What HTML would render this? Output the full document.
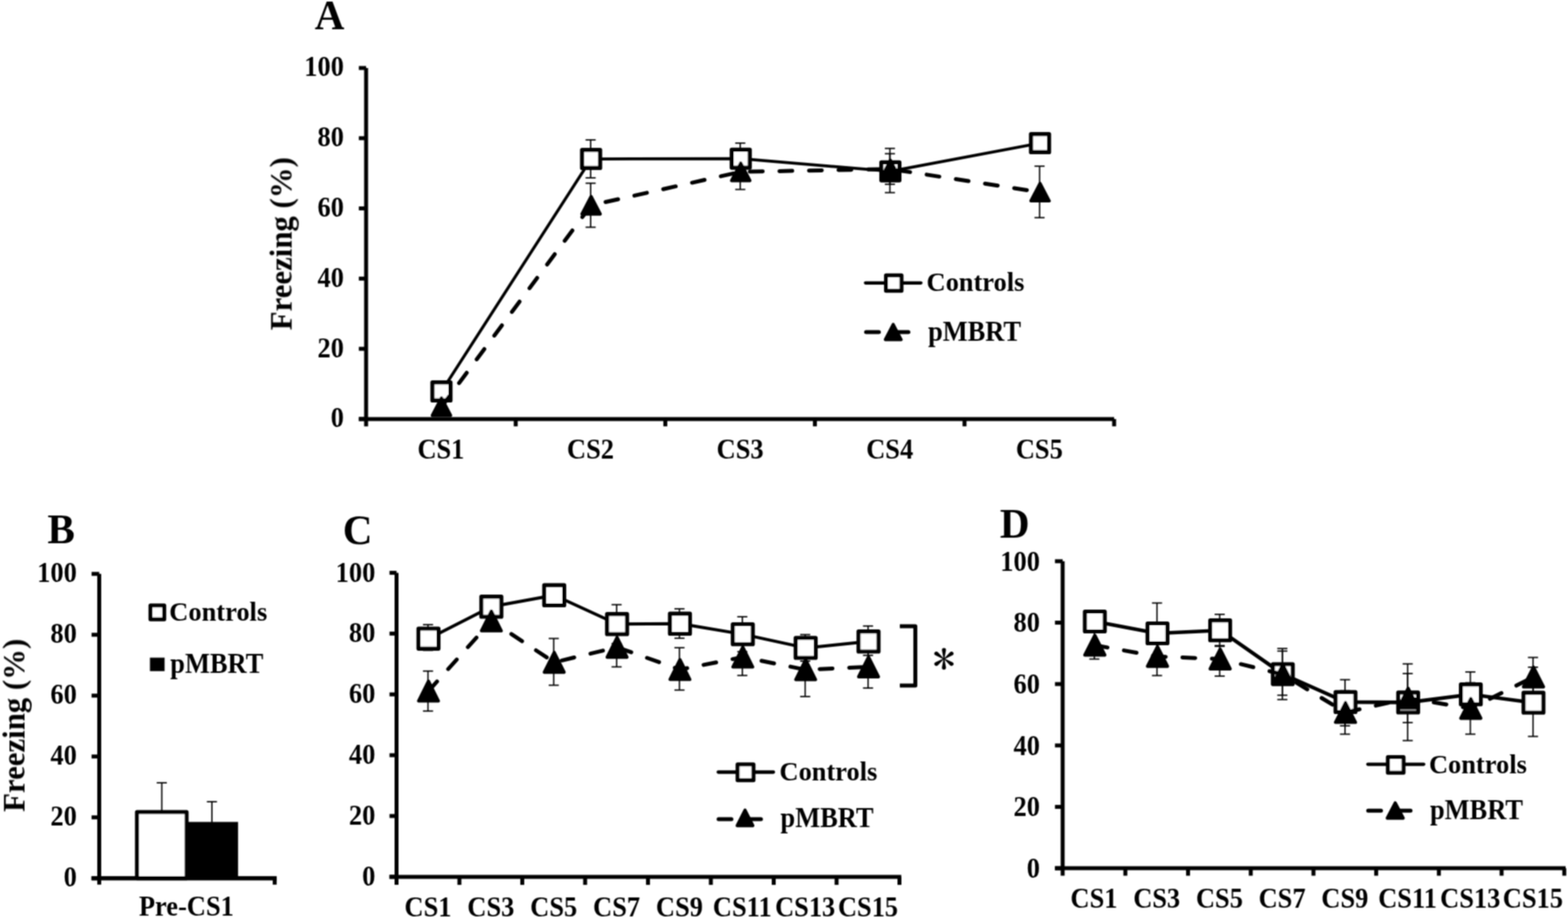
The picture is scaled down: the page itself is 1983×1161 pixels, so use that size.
<!DOCTYPE html>
<html><head><meta charset="utf-8"><title>Freezing figure</title>
<style>
html,body{margin:0;padding:0;background:#fff;}
svg{display:block;}
text{font-family:"Liberation Serif","Times New Roman",serif;font-weight:bold;fill:#000;stroke:none;}
text.ast{font-family:"IPAGothic","Liberation Serif",serif;font-weight:normal;}
</style></head>
<body>
<svg width="1983" height="1161" viewBox="0 0 1983 1161" stroke="#000">
<defs><filter id="soft" x="0" y="0" width="1983" height="1161" filterUnits="userSpaceOnUse"><feConvolveMatrix order="3" kernelMatrix="1 2 1 2 4 2 1 2 1" divisor="16" edgeMode="duplicate"/></filter></defs>
<rect x="0" y="0" width="1983" height="1161" fill="#fff" stroke="none"/>
<g stroke="#000" filter="url(#soft)">
<text class="lab" transform="translate(397.88,36.80) scale(1.0,1)" text-anchor="start" font-size="52">A</text>
<line x1="463.00" y1="86.00" x2="463.00" y2="539.20" stroke-width="5" stroke-linecap="butt"/>
<line x1="453.80" y1="529.90" x2="463.00" y2="529.90" stroke-width="5" stroke-linecap="butt"/>
<text transform="translate(435.00,540.30) scale(0.955,1)" text-anchor="end" font-size="35">0</text>
<line x1="453.80" y1="441.12" x2="463.00" y2="441.12" stroke-width="5" stroke-linecap="butt"/>
<text transform="translate(435.00,451.52) scale(0.955,1)" text-anchor="end" font-size="35">20</text>
<line x1="453.80" y1="352.34" x2="463.00" y2="352.34" stroke-width="5" stroke-linecap="butt"/>
<text transform="translate(435.00,362.74) scale(0.955,1)" text-anchor="end" font-size="35">40</text>
<line x1="453.80" y1="263.56" x2="463.00" y2="263.56" stroke-width="5" stroke-linecap="butt"/>
<text transform="translate(435.00,273.96) scale(0.955,1)" text-anchor="end" font-size="35">60</text>
<line x1="453.80" y1="174.78" x2="463.00" y2="174.78" stroke-width="5" stroke-linecap="butt"/>
<text transform="translate(435.00,185.18) scale(0.955,1)" text-anchor="end" font-size="35">80</text>
<line x1="453.80" y1="86.00" x2="463.00" y2="86.00" stroke-width="5" stroke-linecap="butt"/>
<text transform="translate(435.00,96.40) scale(0.955,1)" text-anchor="end" font-size="35">100</text>
<line x1="453.80" y1="529.90" x2="1409.00" y2="529.90" stroke-width="5" stroke-linecap="butt"/>
<line x1="652.20" y1="529.90" x2="652.20" y2="539.20" stroke-width="5" stroke-linecap="butt"/>
<line x1="841.40" y1="529.90" x2="841.40" y2="539.20" stroke-width="5" stroke-linecap="butt"/>
<line x1="1030.60" y1="529.90" x2="1030.60" y2="539.20" stroke-width="5" stroke-linecap="butt"/>
<line x1="1219.80" y1="529.90" x2="1219.80" y2="539.20" stroke-width="5" stroke-linecap="butt"/>
<line x1="1409.00" y1="529.90" x2="1409.00" y2="539.20" stroke-width="5" stroke-linecap="butt"/>
<text transform="translate(557.60,580.00) scale(0.955,1)" text-anchor="middle" font-size="35">CS1</text>
<text transform="translate(746.80,580.00) scale(0.955,1)" text-anchor="middle" font-size="35">CS2</text>
<text transform="translate(936.00,580.00) scale(0.955,1)" text-anchor="middle" font-size="35">CS3</text>
<text transform="translate(1125.20,580.00) scale(0.955,1)" text-anchor="middle" font-size="35">CS4</text>
<text transform="translate(1314.40,580.00) scale(0.955,1)" text-anchor="middle" font-size="35">CS5</text>
<text transform="translate(368.8,308.2) rotate(-90)" text-anchor="middle" font-size="39">Freezing (%)</text>
<line x1="746.95" y1="176.90" x2="746.95" y2="224.90" stroke-width="1.7" stroke-linecap="butt"/>
<line x1="740.55" y1="176.90" x2="753.35" y2="176.90" stroke-width="1.7" stroke-linecap="butt"/>
<line x1="740.55" y1="224.90" x2="753.35" y2="224.90" stroke-width="1.7" stroke-linecap="butt"/>
<line x1="936.20" y1="181.00" x2="936.20" y2="220.40" stroke-width="1.7" stroke-linecap="butt"/>
<line x1="929.80" y1="181.00" x2="942.60" y2="181.00" stroke-width="1.7" stroke-linecap="butt"/>
<line x1="929.80" y1="220.40" x2="942.60" y2="220.40" stroke-width="1.7" stroke-linecap="butt"/>
<line x1="1125.45" y1="187.70" x2="1125.45" y2="243.60" stroke-width="1.7" stroke-linecap="butt"/>
<line x1="1119.05" y1="187.70" x2="1131.85" y2="187.70" stroke-width="1.7" stroke-linecap="butt"/>
<line x1="1119.05" y1="243.60" x2="1131.85" y2="243.60" stroke-width="1.7" stroke-linecap="butt"/>
<line x1="746.95" y1="231.70" x2="746.95" y2="287.40" stroke-width="1.7" stroke-linecap="butt"/>
<line x1="740.55" y1="231.70" x2="753.35" y2="231.70" stroke-width="1.7" stroke-linecap="butt"/>
<line x1="740.55" y1="287.40" x2="753.35" y2="287.40" stroke-width="1.7" stroke-linecap="butt"/>
<line x1="936.20" y1="195.00" x2="936.20" y2="239.60" stroke-width="1.7" stroke-linecap="butt"/>
<line x1="929.80" y1="195.00" x2="942.60" y2="195.00" stroke-width="1.7" stroke-linecap="butt"/>
<line x1="929.80" y1="239.60" x2="942.60" y2="239.60" stroke-width="1.7" stroke-linecap="butt"/>
<line x1="1125.45" y1="194.40" x2="1125.45" y2="233.10" stroke-width="1.7" stroke-linecap="butt"/>
<line x1="1119.05" y1="194.40" x2="1131.85" y2="194.40" stroke-width="1.7" stroke-linecap="butt"/>
<line x1="1119.05" y1="233.10" x2="1131.85" y2="233.10" stroke-width="1.7" stroke-linecap="butt"/>
<line x1="1314.70" y1="210.20" x2="1314.70" y2="275.30" stroke-width="1.7" stroke-linecap="butt"/>
<line x1="1308.30" y1="210.20" x2="1321.10" y2="210.20" stroke-width="1.7" stroke-linecap="butt"/>
<line x1="1308.30" y1="275.30" x2="1321.10" y2="275.30" stroke-width="1.7" stroke-linecap="butt"/>
<polyline points="558.30,495.00 747.55,201.00 936.80,200.70 1126.05,216.70 1315.30,181.00" fill="none" stroke-width="3.75" stroke-linecap="round" stroke-linejoin="round"/>
<rect x="546.90" y="483.60" width="22.80" height="22.80" fill="#fff" stroke-width="5.2" stroke-linejoin="round"/>
<rect x="736.15" y="189.60" width="22.80" height="22.80" fill="#fff" stroke-width="5.2" stroke-linejoin="round"/>
<rect x="925.40" y="189.30" width="22.80" height="22.80" fill="#fff" stroke-width="5.2" stroke-linejoin="round"/>
<rect x="1114.65" y="205.30" width="22.80" height="22.80" fill="#fff" stroke-width="5.2" stroke-linejoin="round"/>
<rect x="1303.90" y="169.60" width="22.80" height="22.80" fill="#fff" stroke-width="5.2" stroke-linejoin="round"/>
<polyline points="558.30,514.40 747.55,259.60 936.80,217.30 1126.05,213.80 1315.30,243.00" fill="none" stroke-width="5" stroke-linecap="round" stroke-linejoin="round" stroke-dasharray="16.2 21.15" stroke-dashoffset="0"/>
<polygon points="558.30,503.30 569.90,525.50 546.70,525.50" fill="#000" stroke-width="4" stroke-linejoin="round"/>
<polygon points="747.55,248.50 759.15,270.70 735.95,270.70" fill="#000" stroke-width="4" stroke-linejoin="round"/>
<polygon points="936.80,206.20 948.40,228.40 925.20,228.40" fill="#000" stroke-width="4" stroke-linejoin="round"/>
<polygon points="1126.05,202.70 1137.65,224.90 1114.45,224.90" fill="#000" stroke-width="4" stroke-linejoin="round"/>
<polygon points="1315.30,231.90 1326.90,254.10 1303.70,254.10" fill="#000" stroke-width="4" stroke-linejoin="round"/>
<polyline points="1094.60,357.80 1164.60,357.80" fill="none" stroke-width="4.3" stroke-linecap="round" stroke-linejoin="round"/>
<rect x="1120.50" y="348.25" width="19.60" height="19.60" fill="#fff" stroke-width="5" stroke-linejoin="round"/>
<text transform="translate(1171.73,368.00) scale(0.984,1)" text-anchor="start" font-size="34">Controls</text>
<polyline points="1095.30,419.90 1150.00,419.90" fill="none" stroke-width="5" stroke-linecap="round" stroke-linejoin="round" stroke-dasharray="16.2 21.15" stroke-dashoffset="0"/>
<polygon points="1129.60,410.30 1139.50,429.50 1119.70,429.50" fill="#000" stroke-width="4" stroke-linejoin="round"/>
<text transform="translate(1173.67,431.00) scale(0.955,1)" text-anchor="start" font-size="35">pMBRT</text>
<text class="lab" transform="translate(60.06,687.30) scale(1.0,1)" text-anchor="start" font-size="52">B</text>
<line x1="125.50" y1="725.80" x2="125.50" y2="1118.80" stroke-width="5" stroke-linecap="butt"/>
<line x1="115.80" y1="1110.70" x2="125.50" y2="1110.70" stroke-width="5" stroke-linecap="butt"/>
<text transform="translate(97.20,1121.20) scale(0.955,1)" text-anchor="end" font-size="35">0</text>
<line x1="115.80" y1="1033.72" x2="125.50" y2="1033.72" stroke-width="5" stroke-linecap="butt"/>
<text transform="translate(97.20,1044.22) scale(0.955,1)" text-anchor="end" font-size="35">20</text>
<line x1="115.80" y1="956.74" x2="125.50" y2="956.74" stroke-width="5" stroke-linecap="butt"/>
<text transform="translate(97.20,967.24) scale(0.955,1)" text-anchor="end" font-size="35">40</text>
<line x1="115.80" y1="879.76" x2="125.50" y2="879.76" stroke-width="5" stroke-linecap="butt"/>
<text transform="translate(97.20,890.26) scale(0.955,1)" text-anchor="end" font-size="35">60</text>
<line x1="115.80" y1="802.78" x2="125.50" y2="802.78" stroke-width="5" stroke-linecap="butt"/>
<text transform="translate(97.20,813.28) scale(0.955,1)" text-anchor="end" font-size="35">80</text>
<line x1="115.80" y1="725.80" x2="125.50" y2="725.80" stroke-width="5" stroke-linecap="butt"/>
<text transform="translate(97.20,736.30) scale(0.955,1)" text-anchor="end" font-size="35">100</text>
<line x1="115.80" y1="1110.70" x2="349.80" y2="1110.70" stroke-width="5" stroke-linecap="butt"/>
<line x1="347.40" y1="1110.70" x2="347.40" y2="1118.80" stroke-width="5" stroke-linecap="butt"/>
<text transform="translate(31.0,917.3) rotate(-90)" text-anchor="middle" font-size="39">Freezing (%)</text>
<line x1="204.60" y1="990.00" x2="204.60" y2="1027.00" stroke-width="1.7" stroke-linecap="butt"/>
<line x1="198.20" y1="990.00" x2="211.00" y2="990.00" stroke-width="1.7" stroke-linecap="butt"/>
<line x1="268.00" y1="1013.90" x2="268.00" y2="1040.00" stroke-width="1.7" stroke-linecap="butt"/>
<line x1="261.60" y1="1013.90" x2="274.40" y2="1013.90" stroke-width="1.7" stroke-linecap="butt"/>
<rect x="236.0" y="1040.0" width="64.6" height="70.7" fill="#000"/>
<rect x="173.2" y="1026.9" width="62.8" height="83.80" fill="#fff" stroke-width="5" stroke-linejoin="round"/>
<line x1="115.80" y1="1110.70" x2="349.80" y2="1110.70" stroke-width="5" stroke-linecap="butt"/>
<rect x="190.3" y="765.7" width="17.4" height="17.5" fill="#fff" stroke-width="5" stroke-linejoin="round"/>
<rect x="190.1" y="832.2" width="17.6" height="16.0" fill="#000"/>
<text transform="translate(214.03,784.60) scale(0.984,1)" text-anchor="start" font-size="34">Controls</text>
<text transform="translate(215.37,850.80) scale(0.955,1)" text-anchor="start" font-size="35">pMBRT</text>
<text transform="translate(235.70,1158.30) scale(0.955,1)" text-anchor="middle" font-size="35">Pre-CS1</text>
<text class="lab" transform="translate(433.50,688.20) scale(1.0,1)" text-anchor="start" font-size="52">C</text>
<line x1="501.50" y1="724.40" x2="501.50" y2="1119.10" stroke-width="5" stroke-linecap="butt"/>
<line x1="492.60" y1="1108.90" x2="501.50" y2="1108.90" stroke-width="5" stroke-linecap="butt"/>
<text transform="translate(474.70,1120.00) scale(0.955,1)" text-anchor="end" font-size="35">0</text>
<line x1="492.60" y1="1032.00" x2="501.50" y2="1032.00" stroke-width="5" stroke-linecap="butt"/>
<text transform="translate(474.70,1043.10) scale(0.955,1)" text-anchor="end" font-size="35">20</text>
<line x1="492.60" y1="955.10" x2="501.50" y2="955.10" stroke-width="5" stroke-linecap="butt"/>
<text transform="translate(474.70,966.20) scale(0.955,1)" text-anchor="end" font-size="35">40</text>
<line x1="492.60" y1="878.20" x2="501.50" y2="878.20" stroke-width="5" stroke-linecap="butt"/>
<text transform="translate(474.70,889.30) scale(0.955,1)" text-anchor="end" font-size="35">60</text>
<line x1="492.60" y1="801.30" x2="501.50" y2="801.30" stroke-width="5" stroke-linecap="butt"/>
<text transform="translate(474.70,812.40) scale(0.955,1)" text-anchor="end" font-size="35">80</text>
<line x1="492.60" y1="724.40" x2="501.50" y2="724.40" stroke-width="5" stroke-linecap="butt"/>
<text transform="translate(474.70,735.50) scale(0.955,1)" text-anchor="end" font-size="35">100</text>
<line x1="492.60" y1="1108.90" x2="1139.80" y2="1108.90" stroke-width="5" stroke-linecap="butt"/>
<line x1="581.00" y1="1108.90" x2="581.00" y2="1119.10" stroke-width="5" stroke-linecap="butt"/>
<line x1="660.50" y1="1108.90" x2="660.50" y2="1119.10" stroke-width="5" stroke-linecap="butt"/>
<line x1="740.00" y1="1108.90" x2="740.00" y2="1119.10" stroke-width="5" stroke-linecap="butt"/>
<line x1="819.50" y1="1108.90" x2="819.50" y2="1119.10" stroke-width="5" stroke-linecap="butt"/>
<line x1="899.00" y1="1108.90" x2="899.00" y2="1119.10" stroke-width="5" stroke-linecap="butt"/>
<line x1="978.50" y1="1108.90" x2="978.50" y2="1119.10" stroke-width="5" stroke-linecap="butt"/>
<line x1="1058.00" y1="1108.90" x2="1058.00" y2="1119.10" stroke-width="5" stroke-linecap="butt"/>
<line x1="1137.50" y1="1108.90" x2="1137.50" y2="1119.10" stroke-width="5" stroke-linecap="butt"/>
<text transform="translate(541.25,1158.50) scale(0.955,1)" text-anchor="middle" font-size="35">CS1</text>
<text transform="translate(620.75,1158.50) scale(0.955,1)" text-anchor="middle" font-size="35">CS3</text>
<text transform="translate(700.25,1158.50) scale(0.955,1)" text-anchor="middle" font-size="35">CS5</text>
<text transform="translate(779.75,1158.50) scale(0.955,1)" text-anchor="middle" font-size="35">CS7</text>
<text transform="translate(859.25,1158.50) scale(0.955,1)" text-anchor="middle" font-size="35">CS9</text>
<text transform="translate(938.75,1158.50) scale(0.955,1)" text-anchor="middle" font-size="35">CS11</text>
<text transform="translate(1018.25,1158.50) scale(0.955,1)" text-anchor="middle" font-size="35">CS13</text>
<text transform="translate(1097.75,1158.50) scale(0.955,1)" text-anchor="middle" font-size="35">CS15</text>
<line x1="541.30" y1="790.00" x2="541.30" y2="822.50" stroke-width="1.7" stroke-linecap="butt"/>
<line x1="534.90" y1="790.00" x2="547.70" y2="790.00" stroke-width="1.7" stroke-linecap="butt"/>
<line x1="534.90" y1="822.50" x2="547.70" y2="822.50" stroke-width="1.7" stroke-linecap="butt"/>
<line x1="779.80" y1="764.70" x2="779.80" y2="813.90" stroke-width="1.7" stroke-linecap="butt"/>
<line x1="773.40" y1="764.70" x2="786.20" y2="764.70" stroke-width="1.7" stroke-linecap="butt"/>
<line x1="773.40" y1="813.90" x2="786.20" y2="813.90" stroke-width="1.7" stroke-linecap="butt"/>
<line x1="859.30" y1="770.00" x2="859.30" y2="807.20" stroke-width="1.7" stroke-linecap="butt"/>
<line x1="852.90" y1="770.00" x2="865.70" y2="770.00" stroke-width="1.7" stroke-linecap="butt"/>
<line x1="852.90" y1="807.20" x2="865.70" y2="807.20" stroke-width="1.7" stroke-linecap="butt"/>
<line x1="938.80" y1="780.00" x2="938.80" y2="824.20" stroke-width="1.7" stroke-linecap="butt"/>
<line x1="932.40" y1="780.00" x2="945.20" y2="780.00" stroke-width="1.7" stroke-linecap="butt"/>
<line x1="932.40" y1="824.20" x2="945.20" y2="824.20" stroke-width="1.7" stroke-linecap="butt"/>
<line x1="1018.30" y1="802.60" x2="1018.30" y2="836.20" stroke-width="1.7" stroke-linecap="butt"/>
<line x1="1011.90" y1="802.60" x2="1024.70" y2="802.60" stroke-width="1.7" stroke-linecap="butt"/>
<line x1="1011.90" y1="836.20" x2="1024.70" y2="836.20" stroke-width="1.7" stroke-linecap="butt"/>
<line x1="1097.80" y1="791.70" x2="1097.80" y2="828.80" stroke-width="1.7" stroke-linecap="butt"/>
<line x1="1091.40" y1="791.70" x2="1104.20" y2="791.70" stroke-width="1.7" stroke-linecap="butt"/>
<line x1="1091.40" y1="828.80" x2="1104.20" y2="828.80" stroke-width="1.7" stroke-linecap="butt"/>
<line x1="541.30" y1="848.70" x2="541.30" y2="899.30" stroke-width="1.7" stroke-linecap="butt"/>
<line x1="534.90" y1="848.70" x2="547.70" y2="848.70" stroke-width="1.7" stroke-linecap="butt"/>
<line x1="534.90" y1="899.30" x2="547.70" y2="899.30" stroke-width="1.7" stroke-linecap="butt"/>
<line x1="700.30" y1="807.50" x2="700.30" y2="866.60" stroke-width="1.7" stroke-linecap="butt"/>
<line x1="693.90" y1="807.50" x2="706.70" y2="807.50" stroke-width="1.7" stroke-linecap="butt"/>
<line x1="693.90" y1="866.60" x2="706.70" y2="866.60" stroke-width="1.7" stroke-linecap="butt"/>
<line x1="779.80" y1="793.80" x2="779.80" y2="843.40" stroke-width="1.7" stroke-linecap="butt"/>
<line x1="773.40" y1="793.80" x2="786.20" y2="793.80" stroke-width="1.7" stroke-linecap="butt"/>
<line x1="773.40" y1="843.40" x2="786.20" y2="843.40" stroke-width="1.7" stroke-linecap="butt"/>
<line x1="859.30" y1="819.20" x2="859.30" y2="872.70" stroke-width="1.7" stroke-linecap="butt"/>
<line x1="852.90" y1="819.20" x2="865.70" y2="819.20" stroke-width="1.7" stroke-linecap="butt"/>
<line x1="852.90" y1="872.70" x2="865.70" y2="872.70" stroke-width="1.7" stroke-linecap="butt"/>
<line x1="938.80" y1="807.70" x2="938.80" y2="854.30" stroke-width="1.7" stroke-linecap="butt"/>
<line x1="932.40" y1="807.70" x2="945.20" y2="807.70" stroke-width="1.7" stroke-linecap="butt"/>
<line x1="932.40" y1="854.30" x2="945.20" y2="854.30" stroke-width="1.7" stroke-linecap="butt"/>
<line x1="1018.30" y1="813.10" x2="1018.30" y2="880.90" stroke-width="1.7" stroke-linecap="butt"/>
<line x1="1011.90" y1="813.10" x2="1024.70" y2="813.10" stroke-width="1.7" stroke-linecap="butt"/>
<line x1="1011.90" y1="880.90" x2="1024.70" y2="880.90" stroke-width="1.7" stroke-linecap="butt"/>
<line x1="1097.80" y1="816.60" x2="1097.80" y2="870.20" stroke-width="1.7" stroke-linecap="butt"/>
<line x1="1091.40" y1="816.60" x2="1104.20" y2="816.60" stroke-width="1.7" stroke-linecap="butt"/>
<line x1="1091.40" y1="870.20" x2="1104.20" y2="870.20" stroke-width="1.7" stroke-linecap="butt"/>
<polyline points="541.90,807.70 621.40,767.30 700.90,752.80 780.40,789.30 859.90,788.80 939.40,802.10 1018.90,819.40 1098.40,811.30" fill="none" stroke-width="4.0" stroke-linecap="round" stroke-linejoin="round"/>
<rect x="529.25" y="795.05" width="25.30" height="25.30" fill="#fff" stroke-width="5.1" stroke-linejoin="round"/>
<rect x="608.75" y="754.65" width="25.30" height="25.30" fill="#fff" stroke-width="5.1" stroke-linejoin="round"/>
<rect x="688.25" y="740.15" width="25.30" height="25.30" fill="#fff" stroke-width="5.1" stroke-linejoin="round"/>
<rect x="767.75" y="776.65" width="25.30" height="25.30" fill="#fff" stroke-width="5.1" stroke-linejoin="round"/>
<rect x="847.25" y="776.15" width="25.30" height="25.30" fill="#fff" stroke-width="5.1" stroke-linejoin="round"/>
<rect x="926.75" y="789.45" width="25.30" height="25.30" fill="#fff" stroke-width="5.1" stroke-linejoin="round"/>
<rect x="1006.25" y="806.75" width="25.30" height="25.30" fill="#fff" stroke-width="5.1" stroke-linejoin="round"/>
<rect x="1085.75" y="798.65" width="25.30" height="25.30" fill="#fff" stroke-width="5.1" stroke-linejoin="round"/>
<polyline points="541.90,874.00 621.40,785.30 700.90,837.60 780.40,818.60 859.90,846.80 939.40,831.00 1018.90,847.00 1098.40,843.40" fill="none" stroke-width="5" stroke-linecap="round" stroke-linejoin="round" stroke-dasharray="16.2 21.15" stroke-dashoffset="0"/>
<polygon points="541.90,861.45 554.45,886.55 529.35,886.55" fill="#000" stroke-width="4" stroke-linejoin="round"/>
<polygon points="621.40,772.75 633.95,797.85 608.85,797.85" fill="#000" stroke-width="4" stroke-linejoin="round"/>
<polygon points="700.90,825.05 713.45,850.15 688.35,850.15" fill="#000" stroke-width="4" stroke-linejoin="round"/>
<polygon points="780.40,806.05 792.95,831.15 767.85,831.15" fill="#000" stroke-width="4" stroke-linejoin="round"/>
<polygon points="859.90,834.25 872.45,859.35 847.35,859.35" fill="#000" stroke-width="4" stroke-linejoin="round"/>
<polygon points="939.40,818.45 951.95,843.55 926.85,843.55" fill="#000" stroke-width="4" stroke-linejoin="round"/>
<polygon points="1018.90,834.45 1031.45,859.55 1006.35,859.55" fill="#000" stroke-width="4" stroke-linejoin="round"/>
<polygon points="1098.40,830.85 1110.95,855.95 1085.85,855.95" fill="#000" stroke-width="4" stroke-linejoin="round"/>
<polyline points="1138.00,792.00 1157.60,792.00 1157.60,867.00 1138.00,867.00" fill="none" stroke-width="5" stroke-linecap="butt" stroke-linejoin="round"/>
<text transform="translate(1179.3,853.8) scale(1.07,1)" font-size="54.4" class="ast">*</text>
<polyline points="908.40,976.50 978.10,976.50" fill="none" stroke-width="4.3" stroke-linecap="round" stroke-linejoin="round"/>
<rect x="932.80" y="966.65" width="20.10" height="20.10" fill="#fff" stroke-width="5" stroke-linejoin="round"/>
<text transform="translate(985.73,986.60) scale(0.984,1)" text-anchor="start" font-size="34">Controls</text>
<polyline points="908.80,1035.90 964.10,1035.90" fill="none" stroke-width="5" stroke-linecap="round" stroke-linejoin="round" stroke-dasharray="16.2 21.15" stroke-dashoffset="0"/>
<polygon points="942.20,1024.60 952.10,1044.20 932.30,1044.20" fill="#000" stroke-width="4" stroke-linejoin="round"/>
<text transform="translate(987.07,1045.60) scale(0.955,1)" text-anchor="start" font-size="35">pMBRT</text>
<text class="lab" transform="translate(1264.56,680.00) scale(1.0,1)" text-anchor="start" font-size="52">D</text>
<line x1="1343.90" y1="709.80" x2="1343.90" y2="1107.50" stroke-width="5" stroke-linecap="butt"/>
<line x1="1334.20" y1="1098.10" x2="1343.90" y2="1098.10" stroke-width="5" stroke-linecap="butt"/>
<text transform="translate(1315.20,1109.90) scale(0.955,1)" text-anchor="end" font-size="35">0</text>
<line x1="1334.20" y1="1020.44" x2="1343.90" y2="1020.44" stroke-width="5" stroke-linecap="butt"/>
<text transform="translate(1315.20,1032.24) scale(0.955,1)" text-anchor="end" font-size="35">20</text>
<line x1="1334.20" y1="942.78" x2="1343.90" y2="942.78" stroke-width="5" stroke-linecap="butt"/>
<text transform="translate(1315.20,954.58) scale(0.955,1)" text-anchor="end" font-size="35">40</text>
<line x1="1334.20" y1="865.12" x2="1343.90" y2="865.12" stroke-width="5" stroke-linecap="butt"/>
<text transform="translate(1315.20,876.92) scale(0.955,1)" text-anchor="end" font-size="35">60</text>
<line x1="1334.20" y1="787.46" x2="1343.90" y2="787.46" stroke-width="5" stroke-linecap="butt"/>
<text transform="translate(1315.20,799.26) scale(0.955,1)" text-anchor="end" font-size="35">80</text>
<line x1="1334.20" y1="709.80" x2="1343.90" y2="709.80" stroke-width="5" stroke-linecap="butt"/>
<text transform="translate(1315.20,721.60) scale(0.955,1)" text-anchor="end" font-size="35">100</text>
<line x1="1334.20" y1="1098.10" x2="1980.00" y2="1098.10" stroke-width="5" stroke-linecap="butt"/>
<line x1="1423.20" y1="1098.10" x2="1423.20" y2="1107.50" stroke-width="5" stroke-linecap="butt"/>
<line x1="1502.50" y1="1098.10" x2="1502.50" y2="1107.50" stroke-width="5" stroke-linecap="butt"/>
<line x1="1581.80" y1="1098.10" x2="1581.80" y2="1107.50" stroke-width="5" stroke-linecap="butt"/>
<line x1="1661.10" y1="1098.10" x2="1661.10" y2="1107.50" stroke-width="5" stroke-linecap="butt"/>
<line x1="1740.40" y1="1098.10" x2="1740.40" y2="1107.50" stroke-width="5" stroke-linecap="butt"/>
<line x1="1819.70" y1="1098.10" x2="1819.70" y2="1107.50" stroke-width="5" stroke-linecap="butt"/>
<line x1="1899.00" y1="1098.10" x2="1899.00" y2="1107.50" stroke-width="5" stroke-linecap="butt"/>
<line x1="1978.30" y1="1098.10" x2="1978.30" y2="1107.50" stroke-width="5" stroke-linecap="butt"/>
<text transform="translate(1383.55,1148.00) scale(0.955,1)" text-anchor="middle" font-size="35">CS1</text>
<text transform="translate(1462.85,1148.00) scale(0.955,1)" text-anchor="middle" font-size="35">CS3</text>
<text transform="translate(1542.15,1148.00) scale(0.955,1)" text-anchor="middle" font-size="35">CS5</text>
<text transform="translate(1621.45,1148.00) scale(0.955,1)" text-anchor="middle" font-size="35">CS7</text>
<text transform="translate(1700.75,1148.00) scale(0.955,1)" text-anchor="middle" font-size="35">CS9</text>
<text transform="translate(1780.05,1148.00) scale(0.955,1)" text-anchor="middle" font-size="35">CS11</text>
<text transform="translate(1859.35,1148.00) scale(0.955,1)" text-anchor="middle" font-size="35">CS13</text>
<text transform="translate(1938.65,1148.00) scale(0.955,1)" text-anchor="middle" font-size="35">CS15</text>
<line x1="1463.25" y1="762.60" x2="1463.25" y2="839.40" stroke-width="1.7" stroke-linecap="butt"/>
<line x1="1456.85" y1="762.60" x2="1469.65" y2="762.60" stroke-width="1.7" stroke-linecap="butt"/>
<line x1="1456.85" y1="839.40" x2="1469.65" y2="839.40" stroke-width="1.7" stroke-linecap="butt"/>
<line x1="1542.50" y1="777.00" x2="1542.50" y2="817.40" stroke-width="1.7" stroke-linecap="butt"/>
<line x1="1536.10" y1="777.00" x2="1548.90" y2="777.00" stroke-width="1.7" stroke-linecap="butt"/>
<line x1="1536.10" y1="817.40" x2="1548.90" y2="817.40" stroke-width="1.7" stroke-linecap="butt"/>
<line x1="1621.75" y1="820.20" x2="1621.75" y2="884.70" stroke-width="1.7" stroke-linecap="butt"/>
<line x1="1615.35" y1="820.20" x2="1628.15" y2="820.20" stroke-width="1.7" stroke-linecap="butt"/>
<line x1="1615.35" y1="884.70" x2="1628.15" y2="884.70" stroke-width="1.7" stroke-linecap="butt"/>
<line x1="1701.00" y1="859.60" x2="1701.00" y2="917.90" stroke-width="1.7" stroke-linecap="butt"/>
<line x1="1694.60" y1="859.60" x2="1707.40" y2="859.60" stroke-width="1.7" stroke-linecap="butt"/>
<line x1="1694.60" y1="917.90" x2="1707.40" y2="917.90" stroke-width="1.7" stroke-linecap="butt"/>
<line x1="1780.25" y1="839.60" x2="1780.25" y2="936.60" stroke-width="1.7" stroke-linecap="butt"/>
<line x1="1773.85" y1="839.60" x2="1786.65" y2="839.60" stroke-width="1.7" stroke-linecap="butt"/>
<line x1="1773.85" y1="936.60" x2="1786.65" y2="936.60" stroke-width="1.7" stroke-linecap="butt"/>
<line x1="1859.50" y1="849.80" x2="1859.50" y2="906.60" stroke-width="1.7" stroke-linecap="butt"/>
<line x1="1853.10" y1="849.80" x2="1865.90" y2="849.80" stroke-width="1.7" stroke-linecap="butt"/>
<line x1="1853.10" y1="906.60" x2="1865.90" y2="906.60" stroke-width="1.7" stroke-linecap="butt"/>
<line x1="1938.75" y1="843.80" x2="1938.75" y2="931.40" stroke-width="1.7" stroke-linecap="butt"/>
<line x1="1932.35" y1="843.80" x2="1945.15" y2="843.80" stroke-width="1.7" stroke-linecap="butt"/>
<line x1="1932.35" y1="931.40" x2="1945.15" y2="931.40" stroke-width="1.7" stroke-linecap="butt"/>
<line x1="1384.00" y1="798.50" x2="1384.00" y2="833.50" stroke-width="1.7" stroke-linecap="butt"/>
<line x1="1377.60" y1="798.50" x2="1390.40" y2="798.50" stroke-width="1.7" stroke-linecap="butt"/>
<line x1="1377.60" y1="833.50" x2="1390.40" y2="833.50" stroke-width="1.7" stroke-linecap="butt"/>
<line x1="1463.25" y1="806.00" x2="1463.25" y2="854.40" stroke-width="1.7" stroke-linecap="butt"/>
<line x1="1456.85" y1="806.00" x2="1469.65" y2="806.00" stroke-width="1.7" stroke-linecap="butt"/>
<line x1="1456.85" y1="854.40" x2="1469.65" y2="854.40" stroke-width="1.7" stroke-linecap="butt"/>
<line x1="1542.50" y1="816.50" x2="1542.50" y2="855.10" stroke-width="1.7" stroke-linecap="butt"/>
<line x1="1536.10" y1="816.50" x2="1548.90" y2="816.50" stroke-width="1.7" stroke-linecap="butt"/>
<line x1="1536.10" y1="855.10" x2="1548.90" y2="855.10" stroke-width="1.7" stroke-linecap="butt"/>
<line x1="1621.75" y1="823.40" x2="1621.75" y2="879.30" stroke-width="1.7" stroke-linecap="butt"/>
<line x1="1615.35" y1="823.40" x2="1628.15" y2="823.40" stroke-width="1.7" stroke-linecap="butt"/>
<line x1="1615.35" y1="879.30" x2="1628.15" y2="879.30" stroke-width="1.7" stroke-linecap="butt"/>
<line x1="1701.00" y1="873.60" x2="1701.00" y2="928.50" stroke-width="1.7" stroke-linecap="butt"/>
<line x1="1694.60" y1="873.60" x2="1707.40" y2="873.60" stroke-width="1.7" stroke-linecap="butt"/>
<line x1="1694.60" y1="928.50" x2="1707.40" y2="928.50" stroke-width="1.7" stroke-linecap="butt"/>
<line x1="1780.25" y1="851.80" x2="1780.25" y2="913.80" stroke-width="1.7" stroke-linecap="butt"/>
<line x1="1773.85" y1="851.80" x2="1786.65" y2="851.80" stroke-width="1.7" stroke-linecap="butt"/>
<line x1="1773.85" y1="913.80" x2="1786.65" y2="913.80" stroke-width="1.7" stroke-linecap="butt"/>
<line x1="1859.50" y1="863.50" x2="1859.50" y2="928.50" stroke-width="1.7" stroke-linecap="butt"/>
<line x1="1853.10" y1="863.50" x2="1865.90" y2="863.50" stroke-width="1.7" stroke-linecap="butt"/>
<line x1="1853.10" y1="928.50" x2="1865.90" y2="928.50" stroke-width="1.7" stroke-linecap="butt"/>
<line x1="1938.75" y1="831.50" x2="1938.75" y2="880.90" stroke-width="1.7" stroke-linecap="butt"/>
<line x1="1932.35" y1="831.50" x2="1945.15" y2="831.50" stroke-width="1.7" stroke-linecap="butt"/>
<line x1="1932.35" y1="880.90" x2="1945.15" y2="880.90" stroke-width="1.7" stroke-linecap="butt"/>
<polyline points="1384.60,786.00 1463.85,801.00 1543.10,797.20 1622.35,852.50 1701.60,887.90 1780.85,888.40 1860.10,878.20 1939.35,888.70" fill="none" stroke-width="4.6" stroke-linecap="round" stroke-linejoin="round"/>
<rect x="1372.05" y="773.45" width="25.10" height="25.10" fill="#fff" stroke-width="5.1" stroke-linejoin="round"/>
<rect x="1451.30" y="788.45" width="25.10" height="25.10" fill="#fff" stroke-width="5.1" stroke-linejoin="round"/>
<rect x="1530.55" y="784.65" width="25.10" height="25.10" fill="#fff" stroke-width="5.1" stroke-linejoin="round"/>
<rect x="1609.80" y="839.95" width="25.10" height="25.10" fill="#fff" stroke-width="5.1" stroke-linejoin="round"/>
<rect x="1689.05" y="875.35" width="25.10" height="25.10" fill="#fff" stroke-width="5.1" stroke-linejoin="round"/>
<rect x="1768.30" y="875.85" width="25.10" height="25.10" fill="#fff" stroke-width="5.1" stroke-linejoin="round"/>
<rect x="1847.55" y="865.65" width="25.10" height="25.10" fill="#fff" stroke-width="5.1" stroke-linejoin="round"/>
<rect x="1926.80" y="876.15" width="25.10" height="25.10" fill="#fff" stroke-width="5.1" stroke-linejoin="round"/>
<polyline points="1384.60,816.00 1463.85,830.20 1543.10,833.50 1622.35,853.00 1701.60,901.10 1780.85,883.00 1860.10,896.00 1939.35,856.20" fill="none" stroke-width="5" stroke-linecap="round" stroke-linejoin="round" stroke-dasharray="16.2 21.15" stroke-dashoffset="0"/>
<polygon points="1384.60,803.50 1397.30,828.50 1371.90,828.50" fill="#000" stroke-width="4" stroke-linejoin="round"/>
<polygon points="1463.85,817.70 1476.55,842.70 1451.15,842.70" fill="#000" stroke-width="4" stroke-linejoin="round"/>
<polygon points="1543.10,821.00 1555.80,846.00 1530.40,846.00" fill="#000" stroke-width="4" stroke-linejoin="round"/>
<polygon points="1622.35,840.50 1635.05,865.50 1609.65,865.50" fill="#000" stroke-width="4" stroke-linejoin="round"/>
<polygon points="1701.60,888.60 1714.30,913.60 1688.90,913.60" fill="#000" stroke-width="4" stroke-linejoin="round"/>
<polygon points="1780.85,870.50 1793.55,895.50 1768.15,895.50" fill="#000" stroke-width="4" stroke-linejoin="round"/>
<polygon points="1860.10,883.50 1872.80,908.50 1847.40,908.50" fill="#000" stroke-width="4" stroke-linejoin="round"/>
<polygon points="1939.35,843.70 1952.05,868.70 1926.65,868.70" fill="#000" stroke-width="4" stroke-linejoin="round"/>
<polyline points="1729.90,966.60 1800.50,966.60" fill="none" stroke-width="4.3" stroke-linecap="round" stroke-linejoin="round"/>
<rect x="1755.20" y="957.45" width="19.80" height="19.80" fill="#fff" stroke-width="5" stroke-linejoin="round"/>
<text transform="translate(1807.13,977.50) scale(0.984,1)" text-anchor="start" font-size="34">Controls</text>
<polyline points="1730.30,1025.20 1785.50,1025.20" fill="none" stroke-width="5" stroke-linecap="round" stroke-linejoin="round" stroke-dasharray="16.2 21.15" stroke-dashoffset="0"/>
<polygon points="1764.50,1015.40 1774.60,1034.70 1754.40,1034.70" fill="#000" stroke-width="4" stroke-linejoin="round"/>
<text transform="translate(1808.47,1036.00) scale(0.955,1)" text-anchor="start" font-size="35">pMBRT</text>
</g>
</svg>
</body></html>
